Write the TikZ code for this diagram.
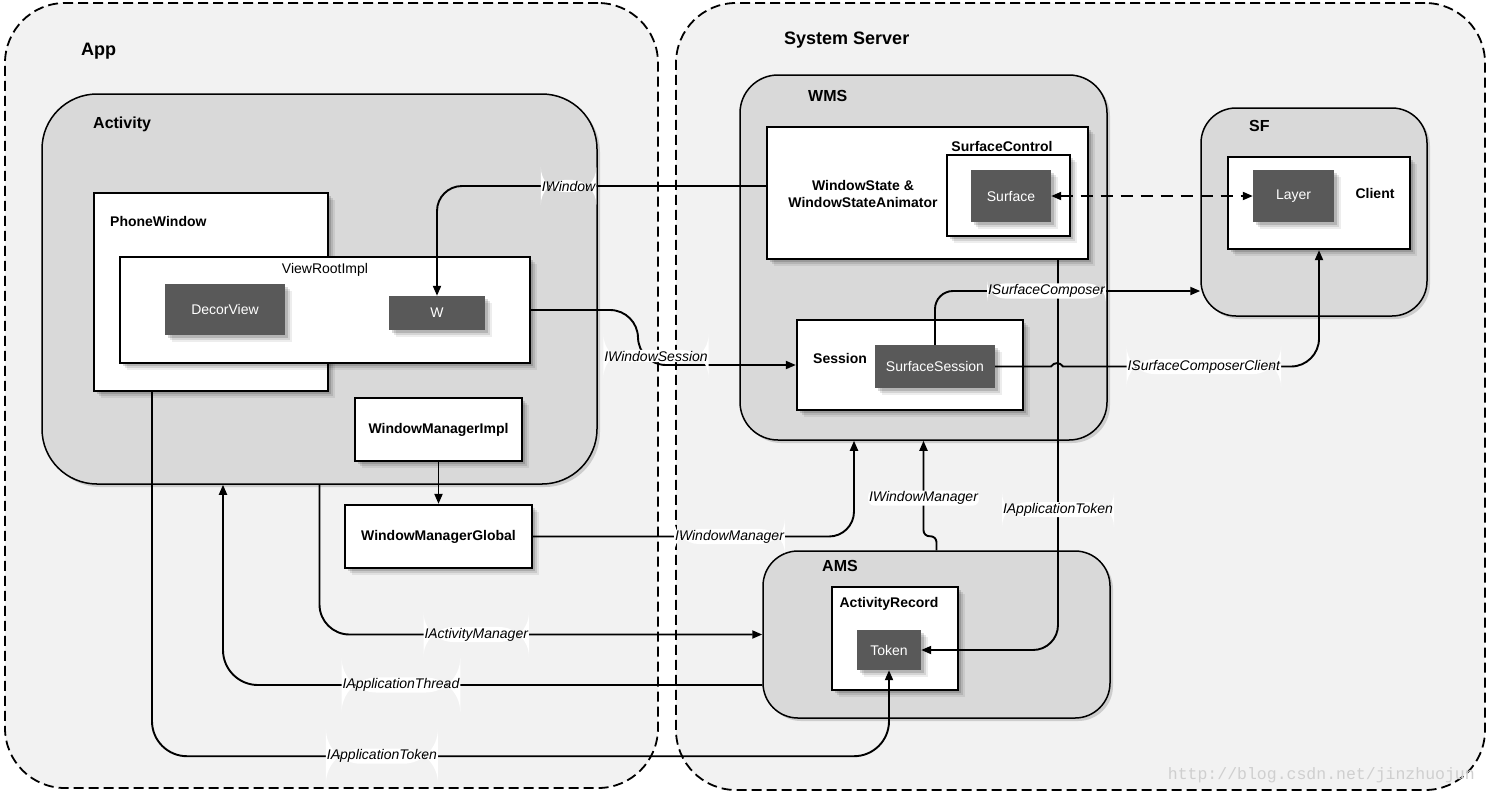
\documentclass[tikz,border=0pt]{standalone}
\usepackage{fontspec}
\setmainfont{Liberation Sans}
\setmonofont{Liberation Mono}
\usetikzlibrary{arrows.meta,shadows}
\definecolor{regionfill}{HTML}{F2F2F2}
\definecolor{groupfill}{HTML}{D9D9D9}
\definecolor{darkfill}{HTML}{595959}
\definecolor{markgray}{HTML}{CFCFCF}

\begin{document}
\begin{tikzpicture}[x=1pt, y=-1pt,
  every node/.style = {align=center, inner sep=2pt}]
    \tikzstyle{region}=[draw, line width=1.8pt, dash pattern=on 10pt off 5pt, fill=regionfill, rounded corners=60pt]
    \tikzstyle{group}=[draw, line width=1.5pt, fill=groupfill, drop shadow={shadow xshift=3pt, shadow yshift=-3pt, opacity=0.15, fill=black}]
    \tikzstyle{softshadow}=[drop shadow={shadow xshift=7pt, shadow yshift=-7pt, opacity=0.07, fill=black}, drop shadow={shadow xshift=5pt, shadow yshift=-5pt, opacity=0.1, fill=black}, drop shadow={shadow xshift=3pt, shadow yshift=-3pt, opacity=0.15, fill=black}]
    \tikzstyle{box}=[draw, line width=2.3pt, fill=white, softshadow]
    \tikzstyle{dark}=[fill=darkfill, text=white, font=\fontsize{14}{17}\selectfont, softshadow]
    \tikzstyle{title}=[anchor=west, font=\bfseries\fontsize{18}{21}\selectfont]
    \tikzstyle{subtitle}=[anchor=west, font=\bfseries\fontsize{16}{19}\selectfont]
    \tikzstyle{boxlabel}=[font=\bfseries\fontsize{14}{17}\selectfont]
    \tikzstyle{conn}=[line width=1.9pt, -{Triangle[length=10pt, width=8pt]}]
    \tikzstyle{iface}=[fill=white, inner sep=1pt, font=\itshape\fontsize{14}{16}\selectfont]
  \fill[white] (0,0) rectangle (1487,796);
  \useasboundingbox (0,0) rectangle (1487,796);
  \node[region, minimum width=653pt, minimum height=785pt] (app) at (331.5,395.5) {};
  \node[region, minimum width=809pt, minimum height=787pt] (sysserver) at (1080.5,396.5) {};
  \node[group, rounded corners=55pt, minimum width=555pt, minimum height=390pt] (activity) at (319.5,289) {};
  \node[group, rounded corners=38pt, minimum width=367pt, minimum height=365pt] (wms) at (923.5,257.5) {};
  \node[group, rounded corners=35pt, minimum width=226pt, minimum height=208pt] (sf) at (1314,212) {};
  \node[group, rounded corners=35pt, minimum width=347pt, minimum height=167pt] (ams) at (936.5,634.5) {};
  \node[box, minimum width=234pt, minimum height=198pt] (phonewindow) at (211,292) {};
  \node[box, minimum width=410pt, minimum height=106pt] (viewroot) at (325,310) {};
  \node[box, boxlabel, minimum width=167pt, minimum height=63pt] (wmimpl) at (438.5,429.5) {WindowManagerImpl};
  \node[box, boxlabel, minimum width=187pt, minimum height=63pt] (wmglobal) at (438.5,536.5) {WindowManagerGlobal};
  \node[box, minimum width=321pt, minimum height=132pt] (windowstate) at (927.5,193) {};
  \node[box, minimum width=123pt, minimum height=81pt] (surfacecontrol) at (1008.5,195.5) {};
  \node[box, minimum width=226pt, minimum height=90pt] (session) at (910,365) {};
  \node[box, minimum width=182pt, minimum height=92pt] (client) at (1319,203) {};
  \node[box, minimum width=126pt, minimum height=103pt] (actrecord) at (895,638.5) {};
  \node[dark, minimum width=120pt, minimum height=51pt] (decorview) at (225,309.5) {DecorView};
  \node[dark, minimum width=96pt, minimum height=34pt] (w) at (437,313) {W};
  \node[dark, minimum width=80pt, minimum height=52pt] (surface) at (1011,196) {Surface};
  \node[dark, minimum width=81pt, minimum height=52pt] (layer) at (1293.5,196) {Layer};
  \node[dark, minimum width=120pt, minimum height=43pt] (surfacesession) at (935,366.5) {SurfaceSession};
  \node[dark, minimum width=64pt, minimum height=40pt] (token) at (889,650) {Token};
  \node[title] (apptitle) at (79,51) {App};
  \node[title] (systitle) at (782,40) {System Server};
  \node[subtitle] (activitytitle) at (91,124) {Activity};
  \node[subtitle] (wmstitle) at (806,96) {WMS};
  \node[subtitle] (sftitle) at (1247,126) {SF};
  \node[subtitle] (amstitle) at (820,566) {AMS};
  \node[boxlabel, anchor=west] (phonewindowtitle) at (108,221) {PhoneWindow};
  \node[font=\fontsize{14}{17}\selectfont] (viewroottitle) at (325,270) {ViewRootImpl};
  \node[boxlabel] (windowstatetitle) at (863,194) {WindowState \&\\WindowStateAnimator};
  \node[boxlabel] (surfacecontroltitle) at (1002,146) {SurfaceControl};
  \node[boxlabel, anchor=west] (sessiontitle) at (811,358) {Session};
  \node[boxlabel] (clienttitle) at (1375,193) {Client};
  \node[boxlabel] (actrecordtitle) at (889,604) {ActivityRecord};
  \node[font=\ttfamily\fontsize{16.5}{18}\selectfont, text=markgray, anchor=east] (watermark) at (1477,775) {http://blog.csdn.net/jinzhuojun};
  \draw[conn, rounded corners=25pt] ([yshift=7pt]windowstate.west) -| node[iface, pos=0.3] {IWindow} (w.north);
  \draw[conn, rounded corners=28pt] (viewroot.east) -- (638,310) |- node[iface, pos=0.5, xshift=18pt, yshift=9pt] {IWindowSession} (session.west);
  \draw[conn, rounded corners=25pt] (wmglobal.east) -| node[iface, pos=0.306] {IWindowManager} ([xshift=-69.5pt]wms.south);
  \draw[conn, rounded corners=6pt] (ams.north) -- ++(0,-14) -| node[iface, pos=0.7] {IWindowManager} (wms.south);
  \draw[conn, rounded corners=25pt] ([xshift=130.5pt]windowstate.south) |- node[iface, pos=0.32] {IApplicationToken} (token.east);
  \draw[conn, rounded corners=18pt] (surfacesession.north) |- node[iface, pos=0.71] {ISurfaceComposer} ([yshift=-79pt]sf.west);
  \draw[conn] (surfacesession.east) -- (1051,366.5) .. controls (1054,362) and (1060,362) .. (1063,366.5) [rounded corners=28pt] -| node[iface, pos=0.275] {ISurfaceComposerClient} (client.south);
  \draw[conn, {Triangle[length=10pt, width=8pt]}-{Triangle[length=10pt, width=8pt]}, dash pattern=on 12pt off 8pt] (surface.east) -- (layer.west);
  \draw[conn] (wmimpl.south) -- (wmglobal.north);
  \draw[conn, rounded corners=30pt] (activity.south) |- node[iface, pos=0.677] {IActivityManager} (ams.west);
  \draw[conn, rounded corners=35pt] ([yshift=-50.5pt]ams.west) -| node[iface, pos=0.335] {IApplicationThread} ([xshift=-96.5pt]activity.south);
  \draw[conn, rounded corners=35pt] ([xshift=-59pt]phonewindow.south) |- node[iface, pos=0.656] {IApplicationToken} ([yshift=-86pt]token.south) -- (token.south);
\end{tikzpicture}
\end{document}
